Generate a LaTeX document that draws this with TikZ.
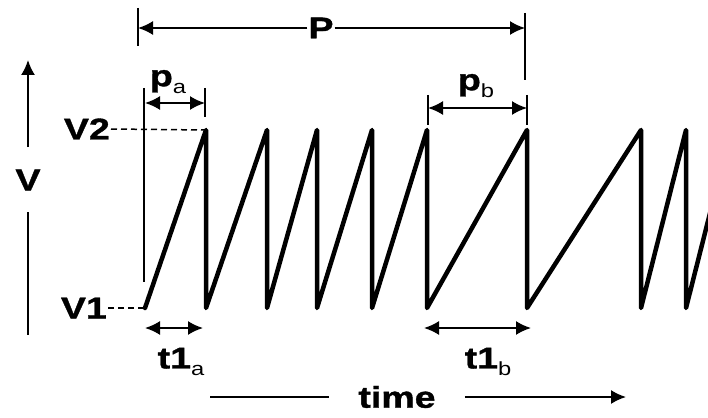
\documentclass[tikz,border=0pt]{standalone}
\usepackage{fontspec}
\newfontfamily\lblfont{Liberation Sans}[FakeStretch=1.25, BoldFeatures={FakeBold=1.2}]
\usetikzlibrary{positioning, arrows.meta}
\newcommand{\lowsub}[1]{\raisebox{-0.25em}{\mdseries\fontsize{19}{19}\selectfont #1}}

\begin{document}
\begin{tikzpicture}[
      x=1pt, y=-1pt,
      lbl/.style={font=\lblfont\bfseries\fontsize{30}{30}\selectfont, inner sep=1pt},
      wave/.style={line width=4.5pt, line join=round, line cap=round},
      guideline/.style={line width=1.5pt},
      dashline/.style={line width=1.5pt, dash pattern=on 6pt off 4pt},
      dimarrow/.style={line width=1.8pt, {Latex[length=15pt,width=14pt]}-{Latex[length=15pt,width=14pt]}},
      arrow/.style={line width=1.8pt, -{Latex[length=15pt,width=14pt]}}
    ]
    \useasboundingbox (0,0) rectangle (708,417);
    \clip (0,0) rectangle (708,417);

    % Sawtooth wave
    \draw [wave] (145,308) -- (206,130) -- (206,308) -- (267,130) -- (267,308)
      -- (317,130) -- (317,308) -- (372,130) -- (372,308) -- (427,130) -- (427,308)
      -- (527,130) -- (527,308) -- (641,130) -- (641,308) -- (686,130) -- (686,308)
      -- (731,130);

    % Place nodes
    \node [lbl, anchor=east] (v2) at (111,129) {V2};
    \node [lbl, anchor=east] (v1) at (108,308) {V1};
    \node [lbl] (v) at (28,180) {V};
    \node [lbl] (p) at (321,28) {P};
    \node [lbl] (pa) at (168,82) {p\lowsub{a}};
    \node [lbl] (pb) at (476,86) {p\lowsub{b}};
    \node [lbl] (t1a) at (181,362) {t1\lowsub{a}};
    \node [lbl] (t1b) at (488,362) {t1\lowsub{b}};
    \node [lbl, inner xsep=29pt] (time) at (397,397) {time};

    % Marker coordinates
    \coordinate (vtop) at (28,60);
    \coordinate (vbot) at (28,335);
    \coordinate (peak1) at (206,130);
    \coordinate (start) at (145,308);
    \coordinate (pl) at (138,28);
    \coordinate (pr) at (525,28);
    \coordinate (pal) at (145,103);
    \coordinate (par) at (205,103);
    \coordinate (pbl) at (428,108);
    \coordinate (pbr) at (527,108);
    \coordinate (tal) at (145,328);
    \coordinate (tar) at (203,328);
    \coordinate (tbl) at (424,328);
    \coordinate (tbr) at (531,328);
    \coordinate (timel) at (210,397);
    \coordinate (timer) at (626,397);

    % Marker lines
    \draw [guideline] (138,8) -- (138,46);
    \draw [guideline] (525,13) -- (525,80);
    \draw [guideline] (144,88) -- (144,282);
    \draw [guideline] (205,88) -- (205,117);
    \draw [guideline] (428,95) -- (428,125);
    \draw [guideline] (527,95) -- (527,125);

    % Dashed levels
    \draw [dashline] (v2.east) -- (peak1);
    \draw [dashline] (v1.east) -- (start);

    % Axis arrows
    \draw [arrow] (v) ++(0,-33) -- (vtop);
    \draw [guideline] (v) ++(0,32) -- (vbot);
    \draw [guideline] (timel) -- (time.west);
    \draw [arrow] (time.east) -- (timer);

    % Dimension arrows
    \draw [arrow] (p) -- (pl);
    \draw [arrow] (p) -- (pr);
    \draw [dimarrow] (pal) -- (par);
    \draw [dimarrow] (pbl) -- (pbr);
    \draw [dimarrow] (tal) -- (tar);
    \draw [dimarrow] (tbl) -- (tbr);
  \end{tikzpicture}
\end{document}
